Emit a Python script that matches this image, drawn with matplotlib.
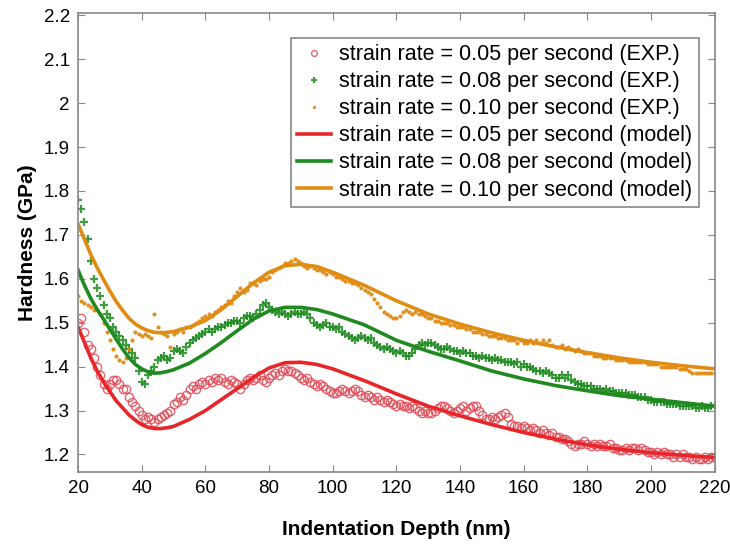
import matplotlib
matplotlib.use("Agg")
import matplotlib.pyplot as plt
import numpy as np

plt.rcParams['font.family'] = ['Liberation Sans', 'DejaVu Sans']

# experimental data, one value per nm from 20 to 220 nm
depth_exp = np.arange(20, 221, 1)

h_005_exp = [
    1.50, 1.51, 1.48, 1.45, 1.44, 1.42, 1.40, 1.38, 1.36, 1.35,
    1.36, 1.37, 1.37, 1.36, 1.35, 1.35, 1.33, 1.32, 1.31, 1.30,
    1.29, 1.28, 1.285, 1.28, 1.275, 1.28, 1.285, 1.29, 1.295, 1.30,
    1.315, 1.32, 1.33, 1.325, 1.335, 1.35, 1.355, 1.35, 1.36, 1.365,
    1.36, 1.37, 1.365, 1.375, 1.37, 1.375, 1.365, 1.36, 1.37, 1.365,
    1.36, 1.35, 1.36, 1.37, 1.375, 1.37, 1.375, 1.38, 1.37, 1.365,
    1.375, 1.38, 1.385, 1.38, 1.39, 1.395, 1.39, 1.39, 1.385, 1.38,
    1.375, 1.37, 1.375, 1.365, 1.36, 1.355, 1.36, 1.355, 1.35, 1.345,
    1.34, 1.34, 1.345, 1.35, 1.345, 1.34, 1.345, 1.35, 1.345, 1.335,
    1.33, 1.335, 1.33, 1.325, 1.33, 1.325, 1.32, 1.325, 1.32, 1.315,
    1.31, 1.315, 1.31, 1.31, 1.305, 1.31, 1.305, 1.30, 1.295, 1.30,
    1.295, 1.295, 1.30, 1.305, 1.31, 1.31, 1.305, 1.30, 1.295, 1.30,
    1.305, 1.31, 1.30, 1.305, 1.31, 1.31, 1.30, 1.29, 1.28, 1.28,
    1.285, 1.28, 1.285, 1.29, 1.295, 1.285, 1.27, 1.265, 1.265, 1.26,
    1.265, 1.26, 1.255, 1.26, 1.255, 1.25, 1.255, 1.25, 1.245, 1.25,
    1.24, 1.24, 1.235, 1.235, 1.23, 1.225, 1.22, 1.225, 1.225, 1.23,
    1.225, 1.22, 1.225, 1.22, 1.225, 1.22, 1.22, 1.225, 1.215, 1.215,
    1.21, 1.21, 1.215, 1.21, 1.215, 1.215, 1.21, 1.215, 1.21, 1.205,
    1.205, 1.20, 1.205, 1.20, 1.205, 1.20, 1.20, 1.195, 1.20, 1.195,
    1.20, 1.195, 1.195, 1.19, 1.195, 1.19, 1.19, 1.195, 1.19, 1.195,
    1.195]

h_008_exp = [
    1.78, 1.76, 1.73, 1.69, 1.64, 1.60, 1.58, 1.56, 1.54, 1.52,
    1.51, 1.49, 1.48, 1.47, 1.46, 1.45, 1.44, 1.43, 1.42, 1.39,
    1.365, 1.36, 1.38, 1.39, 1.40, 1.415, 1.42, 1.425, 1.415, 1.42,
    1.435, 1.44, 1.435, 1.43, 1.445, 1.455, 1.46, 1.465, 1.47, 1.475,
    1.48, 1.485, 1.48, 1.485, 1.49, 1.49, 1.495, 1.50, 1.50, 1.505,
    1.505, 1.50, 1.51, 1.515, 1.515, 1.51, 1.52, 1.53, 1.54, 1.545,
    1.535, 1.53, 1.525, 1.52, 1.525, 1.52, 1.515, 1.52, 1.525, 1.52,
    1.52, 1.525, 1.52, 1.51, 1.50, 1.495, 1.49, 1.495, 1.50, 1.49,
    1.49, 1.485, 1.49, 1.48, 1.475, 1.47, 1.465, 1.46, 1.465, 1.47,
    1.465, 1.46, 1.465, 1.455, 1.45, 1.445, 1.44, 1.445, 1.44, 1.435,
    1.43, 1.435, 1.43, 1.425, 1.425, 1.43, 1.44, 1.45, 1.455, 1.45,
    1.455, 1.455, 1.45, 1.445, 1.44, 1.44, 1.445, 1.44, 1.435, 1.435,
    1.43, 1.435, 1.43, 1.43, 1.425, 1.425, 1.42, 1.425, 1.42, 1.42,
    1.415, 1.42, 1.415, 1.415, 1.41, 1.41, 1.41, 1.405, 1.41, 1.40,
    1.405, 1.40, 1.40, 1.395, 1.39, 1.39, 1.385, 1.39, 1.385, 1.38,
    1.375, 1.375, 1.38, 1.375, 1.38, 1.37, 1.365, 1.36, 1.36, 1.355,
    1.355, 1.355, 1.35, 1.35, 1.35, 1.345, 1.35, 1.345, 1.345, 1.34,
    1.34, 1.34, 1.34, 1.335, 1.335, 1.335, 1.33, 1.33, 1.33, 1.325,
    1.325, 1.32, 1.32, 1.32, 1.32, 1.315, 1.315, 1.315, 1.315, 1.31,
    1.31, 1.31, 1.31, 1.31, 1.305, 1.305, 1.31, 1.305, 1.305, 1.31,
    1.31]

h_010_exp = [
    1.56, 1.55, 1.545, 1.54, 1.535, 1.53, 1.53, 1.52, 1.50, 1.48,
    1.46, 1.44, 1.425, 1.415, 1.41, 1.42, 1.44, 1.46, 1.48, 1.475,
    1.47, 1.475, 1.47, 1.465, 1.52, 1.49, 1.48, 1.475, 1.47, 1.445,
    1.475, 1.48, 1.485, 1.48, 1.49, 1.49, 1.495, 1.50, 1.505, 1.51,
    1.515, 1.52, 1.515, 1.525, 1.53, 1.535, 1.54, 1.55, 1.545, 1.56,
    1.57, 1.58, 1.57, 1.575, 1.59, 1.59, 1.585, 1.595, 1.60, 1.60,
    1.605, 1.615, 1.62, 1.625, 1.63, 1.635, 1.635, 1.64, 1.645, 1.64,
    1.635, 1.63, 1.625, 1.63, 1.625, 1.62, 1.62, 1.615, 1.61, 1.615,
    1.61, 1.605, 1.605, 1.60, 1.595, 1.595, 1.59, 1.59, 1.585, 1.58,
    1.575, 1.57, 1.565, 1.555, 1.545, 1.535, 1.525, 1.52, 1.515, 1.51,
    1.51, 1.515, 1.525, 1.53, 1.525, 1.52, 1.525, 1.52, 1.52, 1.515,
    1.51, 1.51, 1.505, 1.505, 1.50, 1.50, 1.50, 1.495, 1.495, 1.49,
    1.49, 1.49, 1.485, 1.485, 1.48, 1.48, 1.48, 1.475, 1.475, 1.47,
    1.47, 1.47, 1.465, 1.465, 1.465, 1.46, 1.46, 1.46, 1.455, 1.46,
    1.455, 1.455, 1.46, 1.455, 1.46, 1.455, 1.46, 1.455, 1.46, 1.45,
    1.445, 1.445, 1.45, 1.44, 1.445, 1.44, 1.435, 1.44, 1.435, 1.43,
    1.43, 1.43, 1.425, 1.425, 1.425, 1.42, 1.42, 1.42, 1.42, 1.415,
    1.415, 1.415, 1.415, 1.41, 1.41, 1.41, 1.41, 1.41, 1.41, 1.405,
    1.405, 1.405, 1.405, 1.40, 1.40, 1.40, 1.40, 1.40, 1.40, 1.395,
    1.395, 1.395, 1.39, 1.385, 1.385, 1.385, 1.385, 1.385, 1.385, 1.385,
    1.385]

# model curves
depth_model = [20, 22, 24, 26, 28, 30, 32, 34, 36, 38, 40, 42, 44, 46, 48, 50,
               55, 60, 65, 70, 75, 80, 85, 90, 95, 100, 110, 120, 130, 140,
               150, 160, 170, 180, 190, 200, 210, 220]
h_005_model = [1.49, 1.455, 1.42, 1.39, 1.365, 1.343, 1.322, 1.306, 1.29, 1.278,
               1.268, 1.262, 1.259, 1.259, 1.261, 1.264, 1.28, 1.30, 1.325, 1.35,
               1.375, 1.397, 1.409, 1.41, 1.405, 1.395, 1.368, 1.338, 1.31, 1.288,
               1.268, 1.25, 1.235, 1.222, 1.212, 1.204, 1.198, 1.193]
h_008_model = [1.62, 1.585, 1.555, 1.53, 1.508, 1.485, 1.462, 1.44, 1.42, 1.405,
               1.395, 1.388, 1.385, 1.386, 1.389, 1.393, 1.408, 1.43, 1.455, 1.482,
               1.508, 1.527, 1.535, 1.535, 1.53, 1.52, 1.495, 1.46, 1.435, 1.413,
               1.39, 1.372, 1.357, 1.345, 1.334, 1.326, 1.318, 1.31]
h_010_model = [1.725, 1.69, 1.655, 1.625, 1.598, 1.572, 1.548, 1.528, 1.51, 1.497,
               1.488, 1.482, 1.478, 1.477, 1.478, 1.48, 1.49, 1.505, 1.53, 1.56,
               1.59, 1.615, 1.63, 1.633, 1.628, 1.615, 1.585, 1.55, 1.52, 1.497,
               1.477, 1.46, 1.445, 1.432, 1.42, 1.41, 1.402, 1.395]

red = '#e8262a'
green = '#1f8a1f'
orange = '#e08b12'

fig = plt.figure(figsize=(7.3, 5.47), dpi=100)
ax = fig.add_axes([0.107, 0.137, 0.872, 0.839])

ax.plot(depth_exp, h_005_exp, 'o', ms=6, mfc='none', mec='#e04a56', mew=1.0,
        alpha=0.85, label='strain rate = 0.05 per second (EXP.)')
ax.plot(depth_exp, h_008_exp, '+', ms=6, mec=green, mew=1.6, alpha=0.85,
        label='strain rate = 0.08 per second (EXP.)')
ax.plot(depth_exp, h_010_exp, '.', ms=4, color=orange, alpha=0.9,
        label='strain rate = 0.10 per second (EXP.)')
ax.plot(depth_model, h_005_model, '-', color=red, lw=2.6,
        label='strain rate = 0.05 per second (model)')
ax.plot(depth_model, h_008_model, '-', color=green, lw=2.6,
        label='strain rate = 0.08 per second (model)')
ax.plot(depth_model, h_010_model, '-', color=orange, lw=2.6,
        label='strain rate = 0.10 per second (model)')

ax.set_xlim(20, 220)
ax.set_ylim(1.16, 2.205)
ax.set_xticks(np.arange(20, 221, 20))
ax.set_yticks([1.2, 1.3, 1.4, 1.5, 1.6, 1.7, 1.8, 1.9, 2.0, 2.1, 2.2])
ax.set_yticklabels(['1.2', '1.3', '1.4', '1.5', '1.6', '1.7', '1.8', '1.9', '2', '2.1', '2.2'])
ax.tick_params(direction='in', top=True, right=True, length=5, color='#888888',
               labelsize=13.5, pad=6)
for s in ax.spines.values():
    s.set_color('#888888')
    s.set_linewidth(1.2)

ax.set_xlabel('Indentation Depth (nm)', fontsize=15, fontweight='bold', labelpad=16)
ax.set_ylabel('Hardness (GPa)', fontsize=15, fontweight='bold', labelpad=5)

leg = ax.legend(loc='upper right', bbox_to_anchor=(0.975, 0.946), borderaxespad=0,
                fontsize=15.5, fancybox=False, edgecolor='#888888', framealpha=1,
                handlelength=1.55, handletextpad=0.4, labelspacing=0.28,
                borderpad=0.3, markerscale=0.7, numpoints=1)
leg.get_frame().set_linewidth(1.2)

fig.savefig('out.png', dpi=100)
